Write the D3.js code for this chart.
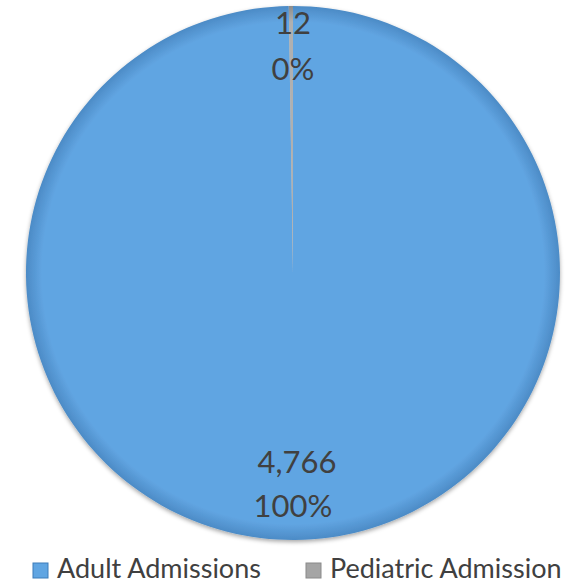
<!DOCTYPE html>
<html><head><meta charset="utf-8">
<script src="https://cdn.jsdelivr.net/npm/d3@7"></script>
<style>html,body{margin:0;padding:0;background:#fff;overflow:hidden}</style>
</head><body><svg id="chart" width="566" height="583"></svg>
<script>
const categories = ["Adult Admissions", "Pediatric Admission"];
const values = [4766, 12];
const percentLabels = ["100%", "0%"];
const colors = ["#60A5E2", "#A5A5A5"];

const svg = d3.select("#chart");
const cx = 293, cy = 273, r = 267;
const defs = svg.append("defs");
const grads = [["g0", "#61A5E2", "#4C8BC6"], ["g1", "#B0B0B0", "#8C8C8C"]];
grads.forEach(([id, c1, c2]) => {
  const g = defs.append("radialGradient").attr("id", id)
    .attr("gradientUnits", "userSpaceOnUse").attr("cx", 0).attr("cy", 0).attr("r", r);
  g.append("stop").attr("offset", "0%").attr("stop-color", c1);
  g.append("stop").attr("offset", "94%").attr("stop-color", c1);
  g.append("stop").attr("offset", "100%").attr("stop-color", c2);
});
const flt = defs.append("filter").attr("id", "sh").attr("x", "-10%").attr("y", "-10%").attr("width", "120%").attr("height", "120%");
flt.append("feDropShadow").attr("dx", 0).attr("dy", 2).attr("stdDeviation", 2).attr("flood-color", "#000").attr("flood-opacity", 0.35);

const pie = d3.pie().sort(null).startAngle(0).endAngle(2 * Math.PI);
const arcs = pie(values);
const arc = d3.arc().innerRadius(0).outerRadius(r);
const g = svg.append("g").attr("transform", `translate(${cx},${cy})`);
g.append("g").attr("filter", "url(#sh)").selectAll("path").data(arcs).join("path")
  .attr("d", arc)
  .attr("fill", (d, i) => `url(#g${i})`);

// labels
const labelPos = [[cy + 192, cy + 236], [cy - 247, cy - 201]];
const labelX = [cx + 4, cx];
const labelText = [[d3.format(",")(values[0]), percentLabels[0]], [d3.format(",")(values[1]), percentLabels[1]]];
labelText.forEach((lines, i) => {
  lines.forEach((t, j) => {
    svg.append("text").attr("x", j === 0 ? labelX[i] : cx).attr("y", labelPos[i][j])
      .attr("text-anchor", "middle").attr("dominant-baseline", "middle")
      .attr("font-family", "Lato, 'Open Sans', sans-serif").attr("font-size", 31)
      .attr("fill", "#404040").text(t);
  });
});

// legend
const legendX = [33, 306];
const lg = svg.append("g");
categories.forEach((c, i) => {
  lg.append("rect").attr("x", legendX[i]).attr("y", 563).attr("width", 15).attr("height", 15)
    .attr("fill", colors[i]).attr("stroke", i === 0 ? "#3C7DBA" : "#8A8A8A").attr("stroke-width", 1);
  lg.append("text").attr("x", legendX[i] + 24).attr("y", 571)
    .attr("dominant-baseline", "middle")
    .attr("font-family", "Lato, 'Open Sans', sans-serif").attr("font-size", 27)
    .attr("fill", "#404040").text(c);
});
</script></body></html>
